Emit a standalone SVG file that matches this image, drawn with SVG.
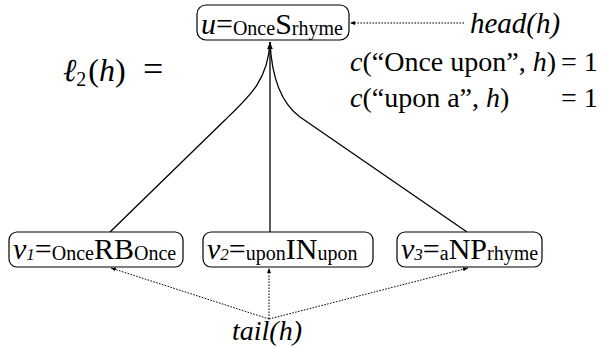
<svg xmlns="http://www.w3.org/2000/svg" width="603" height="347" viewBox="0 0 603 347">
<style>
text{font-family:"Liberation Serif","Times New Roman",serif;fill:#000}
.it{font-style:italic}
.box{fill:#fff;stroke:#000;stroke-width:1.2}
.solid{fill:none;stroke:#000;stroke-width:1.3}
.dot{fill:none;stroke:#000;stroke-width:1;stroke-dasharray:1.6 1.4}
</style>
<defs>
<marker id="ah" markerWidth="8" markerHeight="8" refX="7" refY="4" orient="auto" markerUnits="userSpaceOnUse">
<path d="M0,1.2 L7,4 L0,6.8 z" fill="#000"/>
</marker>
<marker id="ahs" markerWidth="6" markerHeight="6" refX="5" refY="3" orient="auto" markerUnits="userSpaceOnUse">
<path d="M0,1 L5,3 L0,5 z" fill="#000"/>
</marker>
</defs>
<g id="connectors">
<path class="solid" d="M110,232 L225,120 C250,96 268,80 270,42"/>
<path class="solid" d="M467,232 L300,117 C285,106 272,85 270,42"/>
<path class="solid" d="M270,232 L270,42" marker-end="url(#ah)"/>
<path class="dot" d="M464,23 L350,23" marker-end="url(#ahs)"/>
<path class="dot" d="M269,319 L111,268" marker-end="url(#ahs)"/>
<path class="dot" d="M269,319 L269,268" marker-end="url(#ahs)"/>
<path class="dot" d="M269,319 L468,268" marker-end="url(#ahs)"/>
</g>
<g id="u">
<rect class="box" x="197" y="5" width="152" height="35" rx="9"/>
<text x="201" y="34" font-size="30"><tspan class="it">u</tspan>=<tspan font-size="20" dy="1">Once</tspan><tspan dy="-1">S</tspan><tspan font-size="20" dy="1">rhyme</tspan></text>
</g>
<g id="v1">
<rect class="box" x="9" y="232" width="174" height="35" rx="8"/>
<text x="13" y="259" font-size="30"><tspan class="it">v</tspan><tspan class="it" font-size="17" dy="1">1</tspan><tspan dy="-1">=</tspan><tspan font-size="20" dy="1">Once</tspan><tspan dy="-1">RB</tspan><tspan font-size="20" dy="1">Once</tspan></text>
</g>
<g id="v2">
<rect class="box" x="203" y="232" width="170" height="35" rx="8"/>
<text x="207" y="259" font-size="30"><tspan class="it">v</tspan><tspan class="it" font-size="17" dy="1">2</tspan><tspan dy="-1">=</tspan><tspan font-size="20" dy="1">upon</tspan><tspan dy="-1">IN</tspan><tspan font-size="20" dy="1">upon</tspan></text>
</g>
<g id="v3">
<rect class="box" x="397" y="232" width="145" height="35" rx="8"/>
<text x="401" y="259" font-size="30"><tspan class="it">v</tspan><tspan class="it" font-size="17" dy="1">3</tspan><tspan dy="-1">=</tspan><tspan font-size="20" dy="1">a</tspan><tspan dy="-1">NP</tspan><tspan font-size="20" dy="1">rhyme</tspan></text>
</g>
<g id="labels">
<text x="63" y="81" font-size="32"><tspan class="it">ℓ</tspan><tspan font-size="20" dy="5">2</tspan><tspan dy="-5" dx="2">(</tspan><tspan class="it">h</tspan>)</text>
<text x="143" y="81" font-size="36">=</text>
<text class="it" x="470" y="33" font-size="29">head(h)</text>
<text x="350" y="71" font-size="28"><tspan class="it">c</tspan>(“Once upon”, <tspan class="it">h</tspan>)</text>
<text x="561" y="71" font-size="28">= 1</text>
<text x="350" y="107" font-size="28"><tspan class="it">c</tspan>(“upon a”, <tspan class="it">h</tspan>)</text>
<text x="561" y="107" font-size="28">= 1</text>
<text class="it" x="232" y="340" font-size="28">tail(h)</text>
</g>
</svg>
